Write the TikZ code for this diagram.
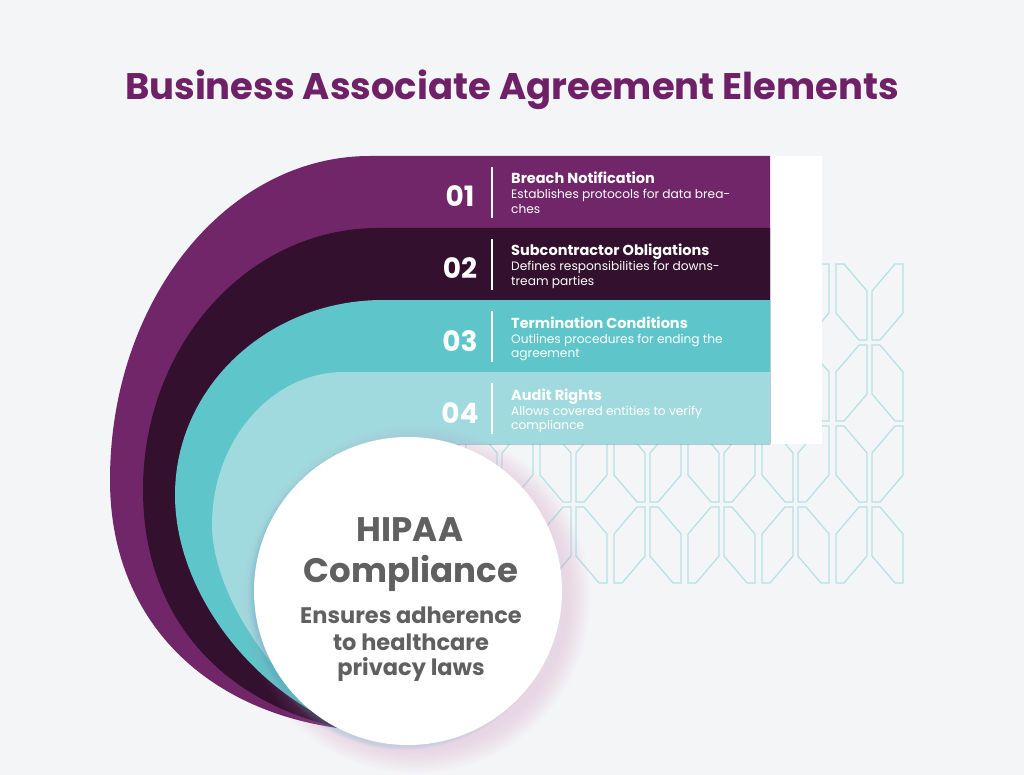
\documentclass[tikz,border=0pt]{standalone}
\usepackage{fontspec}
\setmainfont{Poppins}

\definecolor{bgGrey}{HTML}{F4F5F7}
\definecolor{titlePurple}{HTML}{6E2167}
\definecolor{baaPurple}{HTML}{71266A}
\definecolor{baaPlum}{HTML}{32102E}
\definecolor{baaTeal}{HTML}{5EC6CA}
\definecolor{baaAqua}{HTML}{A1DADE}
\definecolor{baaCyan}{HTML}{19B5C8}
\definecolor{patternLine}{HTML}{B5E2E7}
\definecolor{coreText}{HTML}{606060}
\definecolor{coreGlow}{HTML}{C98BBE}

\begin{document}
\begin{tikzpicture}[x=1pt,y=-1pt,
    hexline/.style={draw=patternLine,line width=1.3pt,line join=miter},
    divider/.style={draw=white,line width=1.2pt},
    bandnum/.style={anchor=base,inner sep=0pt,text=white,font=\fontsize{28}{30}\selectfont\bfseries},
    bandhead/.style={anchor=base west,inner sep=0pt,text=white,font=\fontsize{14.5}{17}\selectfont\bfseries},
    banddesc/.style={anchor=base west,inner sep=0pt,align=left,text=white,font=\fontsize{12.2}{14.5}\selectfont},
    coretitle/.style={anchor=base,inner sep=0pt,text=coreText,font=\fontsize{34}{40}\selectfont\bfseries},
    coresub/.style={anchor=base,inner sep=0pt,text=coreText,font=\fontsize{22.5}{27}\selectfont\bfseries}]
        % Background
        \fill[bgGrey] (0,0) rectangle (1024,775);
        \useasboundingbox (0,0) rectangle (1024,775);

        % Title
        \node[text=titlePurple,font=\fontsize{37}{42}\selectfont\bfseries] (title) at (512,90) {Business Associate Agreement Elements};

        % Hexagon pattern
        \foreach \x in {392,466,...,836} {
          \foreach \y in {264,426} {
            \draw[hexline] (\x,\y) -- ++(8,0) -- ++(23,27) -- ++(0,49) -- ++(-8,0) -- ++(-23,-27) -- cycle;
            \draw[hexline] (\x+67,\y) -- ++(-8,0) -- ++(-23,27) -- ++(0,49) -- ++(8,0) -- ++(23,-27) -- cycle;
          }
          \foreach \y in {345,507} {
            \draw[hexline] (\x,\y+76) -- ++(8,0) -- ++(23,-27) -- ++(0,-49) -- ++(-8,0) -- ++(-23,27) -- cycle;
            \draw[hexline] (\x+67,\y+76) -- ++(-8,0) -- ++(-23,-27) -- ++(0,-49) -- ++(8,0) -- ++(23,27) -- cycle;
          }
        }

        % White card behind the bands
        \fill[white] (770,156) rectangle (822,444);

        % Bands
        \fill[baaPurple] (770,156) -- (370,156) .. controls (226,156) and (110,301) .. (110,480)
          .. controls (110,620) and (205,712) .. (345,729) -- (408,591) -- (408,444) -- (770,444) -- cycle;
        \fill[baaPlum] (770,228) -- (378,228) .. controls (248,228) and (143,345) .. (143,490)
          .. controls (143,620) and (225,705) .. (346,729) -- (408,591) -- (408,444) -- (770,444) -- cycle;
        \fill[baaTeal] (770,300) -- (383,300) .. controls (268,300) and (175,387) .. (175,495)
          .. controls (175,590) and (250,690) .. (347,728) -- (408,591) -- (408,444) -- (770,444) -- cycle;
        \fill[baaAqua] (770,372) -- (344,372) .. controls (271,372) and (212,441) .. (212,525)
          .. controls (212,580) and (255,665) .. (335,722) -- (408,591) -- (408,444) -- (770,444) -- cycle;

        % Band texts
        \foreach \k/\n/\head/\desc in {
            0/01/Breach Notification/{Establishes protocols for data brea-\\ches},
            1/02/Subcontractor Obligations/{Defines responsibilities for downs-\\tream parties},
            2/03/Termination Conditions/{Outlines procedures for ending the\\agreement},
            3/04/Audit Rights/{Allows covered entities to verify\\compliance}} {
          \node[bandnum] (num\n) at (460,207+72*\k) {\n};
          \draw[divider] (492,167+72*\k) -- (492,218+72*\k);
          \node[bandhead] (head\n) at (511,184+72*\k) {\head};
          \node[banddesc] (desc\n) at (511,213.5+72*\k) {\desc};
        }

        % Glow round the circle
        \foreach \r in {1,...,6}
          \fill[baaCyan,opacity=0.04] (404,594) circle[radius=150pt+\r pt];
        \foreach \r in {2,4,...,24}
          \fill[coreGlow,opacity=0.025] (416,599) circle[radius=150pt+\r pt];

        % HIPAA circle
        \node[circle,fill=white,inner sep=0pt,minimum size=308pt] (core) at (408,591) {};
        \node[coretitle] (coreA) at (410,541) {HIPAA};
        \node[coretitle] (coreB) at (411,582) {Compliance};
        \node[coresub] (coreC) at (411,623) {Ensures adherence};
        \node[coresub] (coreD) at (411,650) {to healthcare};
        \node[coresub] (coreE) at (411,675) {privacy laws};
      \end{tikzpicture}
\end{document}
